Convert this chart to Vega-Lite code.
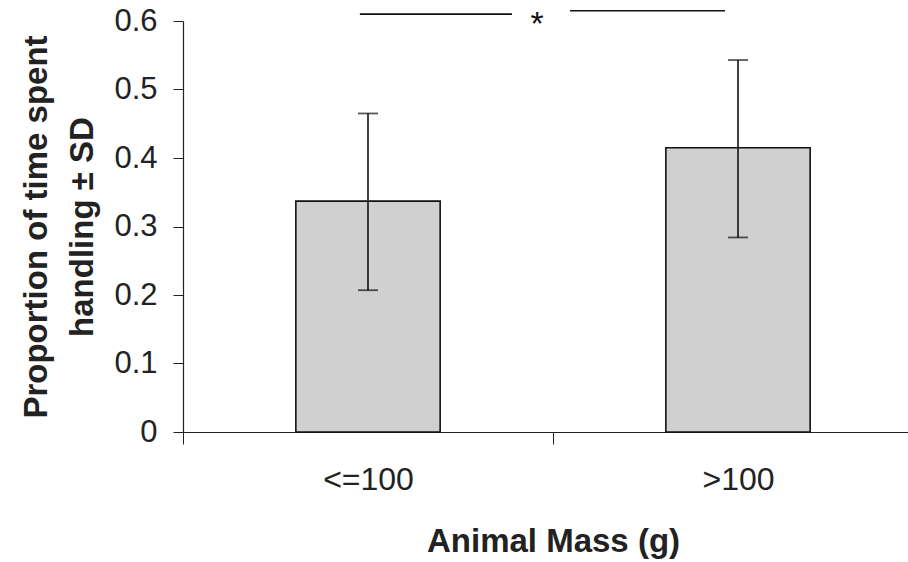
{
  "$schema": "https://vega.github.io/schema/vega-lite/v6.json",
  "width": 725,
  "height": 411,
  "autosize": "none",
  "padding": {"left": 183, "top": 21, "right": 0, "bottom": 130},
  "background": "white",
  "config": {
    "view": {"stroke": null},
    "font": "Liberation Sans",
    "axis": {"grid": false, "domainColor": "#222", "tickColor": "#222", "labelColor": "#222", "titleColor": "#222", "labelFont": "Liberation Sans", "titleFont": "Liberation Sans"}
  },
  "datasets": {
    "bars": [
      {"mass": "<=100", "mean": 0.337, "lo": 0.207, "hi": 0.465},
      {"mass": ">100", "mean": 0.415, "lo": 0.284, "hi": 0.543}
    ],
    "sig": [
      {"x1": 0.478, "x2": 0.889, "y": 0.61},
      {"x1": 1.046, "x2": 1.465, "y": 0.615}
    ],
    "star": [
      {"x": 0.957, "y": 0.594, "label": "*"}
    ]
  },
  "layer": [
    {
      "data": {"name": "bars"},
      "layer": [
        {
          "mark": {"type": "bar", "fill": "#d0d0d0", "stroke": "#111", "strokeWidth": 1.6, "width": {"band": 0.39}},
          "encoding": {
            "x": {
              "field": "mass", "type": "nominal", "sort": ["<=100", ">100"],
              "scale": {"paddingInner": 0, "paddingOuter": 0, "range": [0, 740]},
              "axis": {"title": "Animal Mass (g)", "titleFontSize": 33, "titleFontWeight": "bold", "titlePadding": 30, "labelFontSize": 32, "labelPadding": 20, "labelAngle": 0, "tickBand": "extent", "tickSize": 12, "domainWidth": 1.2}
            },
            "y": {
              "field": "mean", "type": "quantitative",
              "scale": {"domain": [0, 0.6], "nice": false},
              "axis": {"title": ["Proportion of time spent", "handling ± SD"], "titleFontSize": 33, "titleFontWeight": "bold", "titleLineHeight": 46, "titlePadding": 14, "labelFontSize": 31, "labelPadding": 16, "tickSize": 10, "values": [0, 0.1, 0.2, 0.3, 0.4, 0.5, 0.6], "format": "~f", "domainWidth": 1.2}
            }
          }
        },
        {
          "mark": {"type": "rule", "color": "#111", "strokeWidth": 1.6},
          "encoding": {
            "x": {"field": "mass", "type": "nominal", "sort": ["<=100", ">100"]},
            "y": {"field": "lo", "type": "quantitative"},
            "y2": {"field": "hi"}
          }
        },
        {
          "mark": {"type": "tick", "color": "#111", "size": 20, "thickness": 1.8},
          "encoding": {
            "x": {"field": "mass", "type": "nominal", "sort": ["<=100", ">100"]},
            "y": {"field": "lo", "type": "quantitative"}
          }
        },
        {
          "mark": {"type": "tick", "color": "#111", "size": 20, "thickness": 1.8},
          "encoding": {
            "x": {"field": "mass", "type": "nominal", "sort": ["<=100", ">100"]},
            "y": {"field": "hi", "type": "quantitative"}
          }
        }
      ]
    },
    {
      "layer": [
        {
          "data": {"name": "sig"},
          "mark": {"type": "rule", "color": "#111", "strokeWidth": 1.6, "clip": false},
          "encoding": {
            "x": {"field": "x1", "type": "quantitative", "scale": {"domain": [0, 2], "nice": false, "range": [0, 740]}, "axis": null},
            "x2": {"field": "x2"},
            "y": {"field": "y", "type": "quantitative", "scale": {"domain": [0, 0.6], "nice": false}, "axis": null}
          }
        },
        {
          "data": {"name": "star"},
          "mark": {"type": "text", "fontSize": 34, "color": "#111", "baseline": "middle", "align": "center", "clip": false},
          "encoding": {
            "x": {"field": "x", "type": "quantitative", "scale": {"domain": [0, 2], "nice": false, "range": [0, 740]}, "axis": null},
            "y": {"field": "y", "type": "quantitative", "scale": {"domain": [0, 0.6], "nice": false}, "axis": null},
            "text": {"field": "label"}
          }
        }
      ]
    }
  ],
  "resolve": {"scale": {"x": "independent"}, "axis": {"x": "independent", "y": "independent"}}
}
